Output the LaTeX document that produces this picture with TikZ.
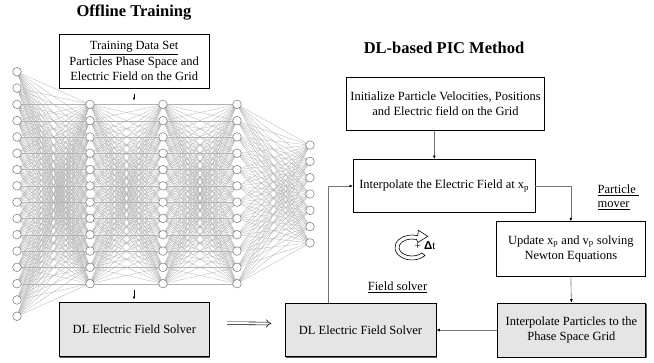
\documentclass[tikz,border=0pt]{standalone}
\usepackage{fontspec}
\setmainfont{Liberation Serif}
\usetikzlibrary{arrows.meta,calc,shadows}

\begin{document}
\begin{tikzpicture}[x=1pt,y=-1pt,
  neuron/.style={circle,draw=black!55,fill=white,line width=0.5pt,minimum size=8.6pt,inner sep=0pt},
  synapse/.style={draw=black!30,line width=0.3pt},
  box/.style={draw=black,line width=0.75pt,fill=white,inner sep=0pt,align=center,
    font=\fontsize{12.5}{15.4}\selectfont},
  graybox/.style={box,fill=black!10,
    drop shadow={shadow xshift=1.1pt,shadow yshift=-1.1pt,fill=black!65,opacity=1}},
  conn/.style={draw=black!55,line width=0.6pt,-{Latex[length=3.4pt,width=2.8pt,fill=black,color=black]}},
  tinyarrow/.style={draw=black,line width=0.5pt,-{Latex[length=3pt,width=2.6pt]}},
  bigarrow/.style={draw=black,line width=0.55pt,double,double distance=2.2pt,-{Implies[length=4pt]}},
  title/.style={font=\fontsize{16.5}{19}\selectfont\bfseries},
  tag/.style={font=\fontsize{12.5}{14}\selectfont,align=left,inner sep=0pt}
]
\useasboundingbox (0,0) rectangle (654,362);

% ---------------- network (offline training) ----------------
\foreach \L/\x/\n in {1/17/16, 2/90/12, 3/163/12, 4/237/12, 5/310/7} {
  \foreach \i in {1,...,\n} {
    \coordinate (n\L-\i) at (\x, {194+(\i-(\n+1)/2)*16.3});
  }
}
\foreach \a/\na/\b/\nb in {1/16/2/12, 2/12/3/12, 3/12/4/12, 4/12/5/7} {
  \foreach \i in {1,...,\na} {
    \foreach \j in {1,...,\nb} {
      \draw[synapse] (n\a-\i) -- (n\b-\j);
    }
  }
}
\foreach \L/\n in {1/16, 2/12, 3/12, 4/12, 5/7} {
  \foreach \i in {1,...,\n} {
    \node[neuron] (u\L-\i) at (n\L-\i) {};
  }
}

\node[title] (t1) at (134,13) {Offline Training};
\node[box,minimum width=149.7pt,minimum height=54pt] (train) at (134.15,61.3)
  {\underline{Training Data Set}\\Particles Phase Space and\\Electric Field on the Grid};
\coordinate (ta) at (134,93.5);
\coordinate (tb) at (134,100.5);
\draw[tinyarrow] (ta) -- (tb);

\coordinate (sa) at (134,289.5);
\coordinate (sb) at (134,299.5);
\draw[tinyarrow] (sa) -- (sb);
\node[graybox,minimum width=150pt,minimum height=54pt] (dl1) at (134.3,329.7)
  {DL Electric Field Solver};

% ---------------- DL-based PIC loop ----------------
\node[title] (t2) at (444,48) {DL-based PIC Method};
\node[box,minimum width=197.6pt,minimum height=53.4pt] (init) at (445.5,104)
  {Initialize Particle Velocities, Positions\\and Electric field on the Grid};
\node[box,minimum width=181.7pt,minimum height=53.4pt] (interp) at (444.15,186)
  {Interpolate the Electric Field at x\textsubscript{p}};
\node[box,minimum width=148.3pt,minimum height=54.3pt] (update) at (570.85,248.85)
  {Update x\textsubscript{p} and v\textsubscript{p} solving\\Newton Equations};
\node[graybox,minimum width=148.3pt,minimum height=54pt] (interpP) at (571.4,330)
  {Interpolate Particles to the\\Phase Space Grid};
\node[graybox,minimum width=151pt,minimum height=53.4pt] (dl2) at (360.5,330)
  {DL Electric Field Solver};

\draw[conn] ([xshift=-11.2pt]init.south) -- ([xshift=-11.2pt]init.south |- interp.north);
\draw[conn] (interp.east) -| (update.north);
\draw[conn] (update.south) -- (interpP.north);
\draw[conn] (interpP.west) -- (dl2.east);
\draw[conn] ([xshift=-32.2pt]dl2.north) |- (interp.west);

\draw[bigarrow] ([shift={(17.4,-6.5)}]dl1.east) -- ([shift={(-13.3,-6.5)}]dl2.west);

\node[tag,anchor=west] (pm) at (597.5,197) {\underline{Particle\ }\\\underline{mover}};
\node[tag] (fs) at (397.5,287) {\underline{Field solver}};

% time-step loop symbol: hollow C-shaped arrow
\draw[black,line width=0.6pt,fill=white]
  (425.0,255.5) arc[start angle=40,end angle=290,x radius=17,y radius=12.5]
  -- (418.3,230.3) -- (427.8,236.3) -- (418.0,242.4)
  -- (416.45,239.5) arc[start angle=290,end angle=40,x radius=13,y radius=8.5]
  -- cycle;
\node[font=\fontsize{11.5}{13}\selectfont,anchor=west,inner sep=0pt] (dt) at (414.5,245.5)
  {+ {\fontspec{Liberation Sans}\bfseries Δ}t};
\end{tikzpicture}
\end{document}
